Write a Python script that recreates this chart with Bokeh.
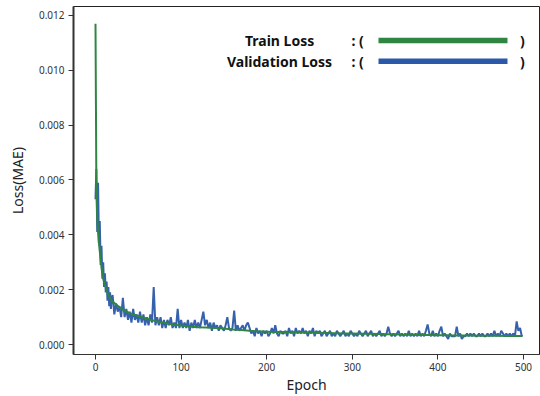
from bokeh.plotting import figure
from bokeh.models import (Range1d, FixedTicker, PrintfTickFormatter, Label,
                          BoxAnnotation, ColumnDataSource)
from bokeh.embed import file_html
from bokeh.resources import INLINE

# ---------------- data ----------------
train_epochs = list(range(0, 20)) + list(range(20, 500, 10)) + [499]
train_loss = [
    0.0117, 0.0060, 0.0046, 0.0041, 0.0037, 0.0034, 0.0031, 0.0028, 0.0026, 0.0024,
    0.0023, 0.0022, 0.0021, 0.0020, 0.0019, 0.00182, 0.00175, 0.00170, 0.00165, 0.00160,
    # every 10 epochs from 20
    0.00157, 0.00130, 0.00114, 0.00104, 0.00094, 0.00086, 0.00079, 0.00073, 0.00069, 0.00066,
    0.00063, 0.00062, 0.00060, 0.00058, 0.00055, 0.00053, 0.00050, 0.00048, 0.00047, 0.00046,
    0.00046, 0.00045, 0.00044, 0.00044, 0.00043, 0.00042, 0.00041, 0.00040, 0.00040, 0.00039,
    0.00039, 0.00038, 0.00037, 0.00037, 0.00036, 0.00036, 0.00035, 0.00035, 0.00034, 0.00034,
    0.00033, 0.00033, 0.00033, 0.00032, 0.00032, 0.00032, 0.00031, 0.00031,
    0.00031,
]

val_epochs = list(range(0, 20)) + list(range(20, 500, 2))
val_loss = [
    0.0053, 0.0064, 0.0041, 0.0059, 0.0037, 0.0045, 0.0029, 0.0036, 0.0024, 0.0030,
    0.0021, 0.0026, 0.0019, 0.0023, 0.0016, 0.0021, 0.0014, 0.0019, 0.0013, 0.0017,
    # every 2 epochs from 20
    0.0018, 0.0011, 0.0015, 0.0012, 0.0014, 0.0010, 0.0017, 0.0010, 0.0013, 0.0009,
    0.0012, 0.0008, 0.0013, 0.0009, 0.0011, 0.0008, 0.0012, 0.0008, 0.0011, 0.0007,
    0.0010, 0.0007, 0.0011, 0.0008, 0.0021, 0.0007, 0.0010, 0.0007, 0.0010, 0.0006,
    0.0009, 0.0006, 0.0009, 0.0007, 0.0010, 0.0006, 0.0008, 0.0006, 0.0013, 0.0006,
    0.0009, 0.0006, 0.0008, 0.0006, 0.0009, 0.0005, 0.0008, 0.0006, 0.0009, 0.0006,
    0.0008, 0.0006, 0.0009, 0.0012, 0.0007, 0.0009, 0.0006, 0.0008, 0.0005, 0.0008,
    0.0006, 0.0007, 0.0005, 0.0007, 0.0006, 0.0005, 0.0007, 0.0010, 0.0006, 0.0005,
    0.0006, 0.00124, 0.0005, 0.0007, 0.0005, 0.0006, 0.0007, 0.0005, 0.0007, 0.0008,
    0.0006, 0.0004, 0.0005, 0.0003, 0.0006, 0.0004, 0.0005, 0.0003, 0.0005, 0.0004,
    0.0005, 0.0003, 0.0004, 0.0006, 0.0004, 0.0007, 0.0004, 0.0003, 0.0005, 0.0004,
    0.0004, 0.0005, 0.0003, 0.0006, 0.0004, 0.0005, 0.0003, 0.0006, 0.0004, 0.0005,
    0.0004, 0.0006, 0.0004, 0.0005, 0.0003, 0.0005, 0.0004, 0.0006, 0.0003, 0.0005,
    0.0004, 0.0005, 0.0003, 0.0004, 0.0005, 0.0003, 0.0004, 0.0005, 0.0003, 0.0004,
    0.0003, 0.0005, 0.0004, 0.0003, 0.0004, 0.0005, 0.0003, 0.0004, 0.0003, 0.0005,
    0.0004, 0.0003, 0.0004, 0.0003, 0.0005, 0.0004, 0.0003, 0.0004, 0.0005, 0.0003,
    0.0004, 0.0005, 0.0003, 0.0004, 0.0003, 0.0004, 0.0005, 0.0003, 0.0004, 0.0003,
    0.0004, 0.00065, 0.0004, 0.0003, 0.0004, 0.0003, 0.0004, 0.0005, 0.0003, 0.0004,
    0.0003, 0.0004, 0.0003, 0.0005, 0.0003, 0.0004, 0.0003, 0.0004, 0.0003, 0.0005,
    0.0003, 0.0004, 0.0003, 0.0005, 0.00073, 0.0004, 0.0003, 0.0005, 0.0003, 0.0004,
    0.0003, 0.0005, 0.00065, 0.0003, 0.0004, 0.0003, 0.0002, 0.0004, 0.0003, 0.0003,
    0.0003, 0.00065, 0.0003, 0.0004, 0.0002, 0.0003, 0.0003, 0.0004, 0.0003, 0.0004,
    0.0003, 0.0004, 0.0003, 0.0003, 0.0004, 0.0003, 0.0004, 0.0003, 0.0003, 0.0004,
    0.0003, 0.0004, 0.0003, 0.0005, 0.0003, 0.0004, 0.0003, 0.0005, 0.0004, 0.0003,
    0.0004, 0.0003, 0.0004, 0.0003, 0.0004, 0.0003, 0.00084, 0.0005, 0.0006, 0.0003,
]

y_ticks = [0.000, 0.002, 0.004, 0.006, 0.008, 0.010, 0.012]
x_ticks = [0, 100, 200, 300, 400, 500]
series_names = ["Train Loss", "Validation Loss"]

GREEN = "#2f8542"
BLUE = "#2b58a8"
FONT = "Noto Sans"

# ---------------- figure ----------------
p = figure(width=540, height=396, output_backend="svg", toolbar_location=None,
           x_range=Range1d(-25.7, 518.7), y_range=Range1d(-0.000364, 0.012327),
           min_border_left=73, min_border_right=1, min_border_top=6, min_border_bottom=41)
p.background_fill_color = "white"
p.border_fill_color = "white"
p.outline_line_color = "#222222"
p.outline_line_width = 1
p.xgrid.visible = False
p.ygrid.visible = False

val_src = ColumnDataSource(dict(x=val_epochs, y=val_loss))
train_src = ColumnDataSource(dict(x=train_epochs, y=train_loss))
p.line("x", "y", source=val_src, line_color=BLUE, line_width=2, line_alpha=0.95)
p.line("x", "y", source=train_src, line_color=GREEN, line_width=2)

for ax in (p.xaxis[0], p.yaxis[0]):
    ax.axis_line_color = "#333333"
    ax.major_tick_line_color = "#333333"
    ax.minor_tick_line_color = None
    ax.major_tick_in = 0
    ax.major_tick_out = 5
    ax.major_label_text_font = FONT
    ax.major_label_text_font_size = "10px"
    ax.major_label_text_color = "#333333"
    ax.axis_label_text_font = FONT
    ax.axis_label_text_font_size = "14px"
    ax.axis_label_text_font_style = "normal"
    ax.axis_label_text_color = "#222222"

p.yaxis[0].axis_line_width = 2
p.yaxis[0].ticker = FixedTicker(ticks=y_ticks)
p.yaxis[0].formatter = PrintfTickFormatter(format="%.3f")
p.yaxis[0].axis_label = "Loss(MAE)"
p.yaxis[0].major_label_standoff = 4
p.yaxis[0].axis_label_standoff = 9

p.xaxis[0].ticker = FixedTicker(ticks=x_ticks)
p.xaxis[0].axis_label = "Epoch"
p.xaxis[0].major_label_standoff = 3
p.xaxis[0].axis_label_standoff = 1

# ---------------- custom legend ----------------
rows_y = [0.01109, 0.01033]
for name, color, yy in zip(series_names, [GREEN, BLUE], rows_y):
    p.add_layout(Label(x=215, y=yy, text=name, text_align="center", text_baseline="middle",
                       text_font=FONT, text_font_size="14px", text_font_style="bold",
                       text_color="#111111"))
    p.add_layout(Label(x=299, y=yy, text=": (", text_align="left", text_baseline="middle",
                       text_font=FONT, text_font_size="14px", text_font_style="bold",
                       text_color="#111111"))
    p.add_layout(Label(x=496, y=yy, text=")", text_align="left", text_baseline="middle",
                       text_font=FONT, text_font_size="14px", text_font_style="bold",
                       text_color="#111111"))
    p.add_layout(BoxAnnotation(left=330.6, right=481.3, bottom=yy - 0.00010, top=yy + 0.00010,
                               fill_color=color, fill_alpha=1.0, line_color=None))

open("out.html", "w").write(file_html(p, INLINE))
